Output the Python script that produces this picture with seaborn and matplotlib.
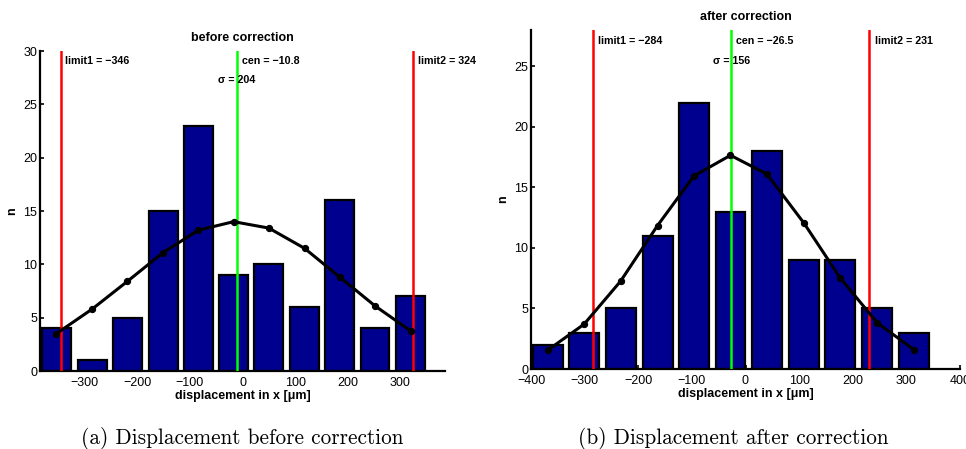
import numpy as np
import pandas as pd
import matplotlib
matplotlib.use("Agg")
import matplotlib.pyplot as plt
import matplotlib.transforms as mtransforms
import seaborn as sns

# Histogram of displacement before correction
before_centers = [-354, -286, -219, -151, -84, -17, 50, 118, 185, 252, 320]
before_counts = [4, 1, 5, 15, 23, 9, 10, 6, 16, 4, 7]
before_fit = [3.5, 5.8, 8.4, 11.1, 13.2, 14.0, 13.4, 11.5, 8.8, 6.1, 3.75]
before_limit1, before_cen, before_limit2, before_sigma = -346, -10.8, 324, 204

# Histogram of displacement after correction
after_centers = [-369, -301, -233, -164, -96, -28, 40, 109, 177, 246, 314]
after_counts = [2, 3, 5, 11, 22, 13, 18, 9, 9, 5, 3]
after_fit = [1.55, 3.7, 7.25, 11.85, 15.95, 17.65, 16.1, 12.05, 7.5, 3.8, 1.6]
after_limit1, after_cen, after_limit2, after_sigma = -284, -26.5, 231, 156

NAVY = "#00008F"
W, H = 966, 449

sns.set_style("ticks")
plt.rcParams["font.family"] = ["Liberation Sans", "DejaVu Sans"]
plt.rcParams["xtick.direction"] = "in"
plt.rcParams["ytick.direction"] = "in"
plt.rcParams["axes.unicode_minus"] = True
for key in ("text.color", "axes.labelcolor", "xtick.color", "ytick.color", "axes.edgecolor"):
    plt.rcParams[key] = "black"

fig = plt.figure(figsize=(W / 100, H / 100), dpi=100)


def px_axes(left, top, right, bottom):
    return fig.add_axes([left / W, 1 - bottom / H, (right - left) / W, (bottom - top) / H])


def draw_panel(ax, centers, counts, fit, limit1, cen, limit2, sigma,
               title, xlim, xticks, ylim, yticks):
    df = pd.DataFrame({"x": centers, "n": counts})
    sns.barplot(data=df, x="x", y="n", native_scale=True, color=NAVY,
                saturation=1, edgecolor="black", linewidth=1.6, width=0.82,
                errorbar=None, ax=ax, zorder=2)
    sns.lineplot(x=centers, y=fit, color="black", linewidth=2.2, marker="o",
                 markersize=4.5, markeredgecolor="black", ax=ax, zorder=5)
    for xv, col in [(limit1, "#FF0000"), (cen, "#00FF00"), (limit2, "#FF0000")]:
        ax.axvline(xv, color=col, linewidth=1.8, zorder=4)

    trans = mtransforms.blended_transform_factory(ax.transData, ax.transAxes)
    lab_kw = dict(fontsize=7.7, fontweight="bold", va="center", ha="left",
                  transform=trans, zorder=6)
    off = (xlim[1] - xlim[0]) * 0.012
    ax.text(limit1 + off, 0.968, f"limit1 = \u2212{abs(limit1)}", **lab_kw)
    ax.text(cen + off, 0.968, f"cen = \u2212{abs(cen)}", **lab_kw)
    ax.text(limit2 + off, 0.968, f"limit2 = {limit2}", **lab_kw)
    ax.text(cen, 0.908, f"\u03c3 = {sigma}", fontsize=7.7, fontweight="bold",
            va="center", ha="center", transform=trans, zorder=6)

    ax.set_xlim(*xlim)
    ax.set_ylim(*ylim)
    ax.set_xticks(xticks)
    ax.set_yticks(yticks)
    ax.tick_params(labelsize=9, length=3, width=1.2, pad=2)
    ax.tick_params(axis="x", pad=4)
    ax.set_xlabel("displacement in x [\u03bcm]", fontsize=9, fontweight="bold", labelpad=1)
    ax.set_ylabel("n", fontsize=9, fontweight="bold", labelpad=4)
    ax.set_title(title, fontsize=9, fontweight="bold", pad=7)
    sns.despine(ax=ax)
    for s in ("left", "bottom"):
        ax.spines[s].set_linewidth(1.6)


ax1 = px_axes(40, 51, 445, 371)
draw_panel(ax1, before_centers, before_counts, before_fit,
           before_limit1, before_cen, before_limit2, before_sigma,
           "before correction", (-385, 385), [-300, -200, -100, 0, 100, 200, 300],
           (0, 30), [0, 5, 10, 15, 20, 25, 30])

ax2 = px_axes(531, 30, 960, 369)
draw_panel(ax2, after_centers, after_counts, after_fit,
           after_limit1, after_cen, after_limit2, after_sigma,
           "after correction", (-400, 400), [-400, -300, -200, -100, 0, 100, 200, 300, 400],
           (0, 28), [0, 5, 10, 15, 20, 25])

cap_kw = dict(fontsize=15.3, family="cmr10", ha="center", va="center")
fig.text(242 / W, 1 - 439 / H, "(a) Displacement before correction", **cap_kw)
fig.text(733 / W, 1 - 439 / H, "(b) Displacement after correction", **cap_kw)

fig.savefig("out.png", dpi=100)
